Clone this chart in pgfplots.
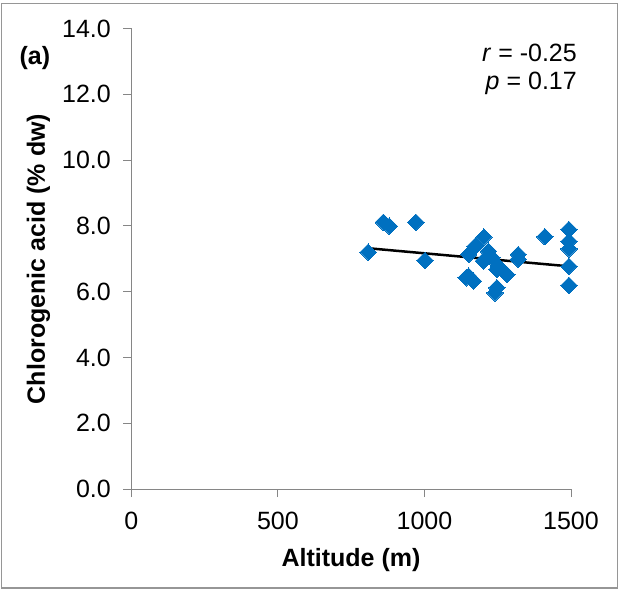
\documentclass[border=0pt]{standalone}
\usepackage{fontspec}
\setmainfont{Liberation Sans}
\usepackage{pgfplots}
\pgfplotsset{compat=1.18}
\definecolor{mblue}{RGB}{0,112,192}
\definecolor{axgray}{RGB}{134,134,134}
\definecolor{framegray}{RGB}{150,150,150}
\newcommand{\bigfs}{\fontsize{25}{30}\selectfont}
\begin{document}
\begin{tikzpicture}
\begin{axis}[
  scale only axis,
  width=439.7pt, height=460.5pt,
  xmin=0, xmax=1500, ymin=0, ymax=14,
  axis x line*=bottom, axis y line*=left,
  axis line style={axgray, line width=0.9pt, -},
  xtick={0,500,1000,1500},
  ytick={0,2,...,14},
  tick align=outside,
  major tick length=8pt,
  tick style={axgray, line width=0.9pt},
  /pgf/number format/assume math mode=true,
  tick label style={font=\bigfs, text=black},
  yticklabel style={xshift=-9pt, /pgf/number format/.cd, fixed, fixed zerofill, precision=1},
  xticklabel style={yshift=-12pt, /pgf/number format/.cd, fixed, precision=0, 1000 sep={}},
  clip=false,
]
\addplot[only marks, mark=square*, mark size=5.8pt,
  mark options={rotate=45, fill=mblue, draw=mblue, line width=0pt}] coordinates {
(808,7.20) (860,8.11) (880,7.99) (971,8.11) (1002,6.95)
(1151,7.13) (1173,7.38) (1203,7.66) (1218,7.23) (1201,6.93)
(1230,7.03) (1142,6.42) (1167,6.32) (1151,6.47) (1252,6.77)
(1247,6.67) (1281,6.52) (1247,6.12) (1241,5.96) (1320,7.13)
(1320,6.98) (1411,7.67) (1493,7.89) (1493,7.53) (1493,7.30)
(1493,6.77) (1493,6.19)
};
\addplot[black, line width=2.5pt] coordinates {(808,7.32) (1493,6.77)};
\end{axis}
% labels (coordinates relative to axis origin, in pt)
\node[font=\bigfs\bfseries, anchor=base, rotate=90] at (-86.3pt,230pt) {Chlorogenic acid (\% dw)};
\node[font=\bigfs\bfseries, anchor=base] at (219.7pt,-77pt) {Altitude (m)};
\node[font=\bigfs\bfseries, anchor=base west] at (-115.3pt,424pt) {(a)};
\node[font=\bigfs, anchor=base east, inner sep=0pt] at (445.7pt,427pt) {\textit{r} = -0.25};
\node[font=\bigfs, anchor=base east, inner sep=0pt] at (445.7pt,399pt) {\textit{p} = 0.17};
\draw[framegray, line width=1.5pt] (-129.8pt,-99pt) rectangle (486.2pt,485.5pt);
\pgfresetboundingbox
\useasboundingbox (-131.3pt,-101pt) rectangle (487.7pt,489pt);
\end{tikzpicture}
\end{document}
